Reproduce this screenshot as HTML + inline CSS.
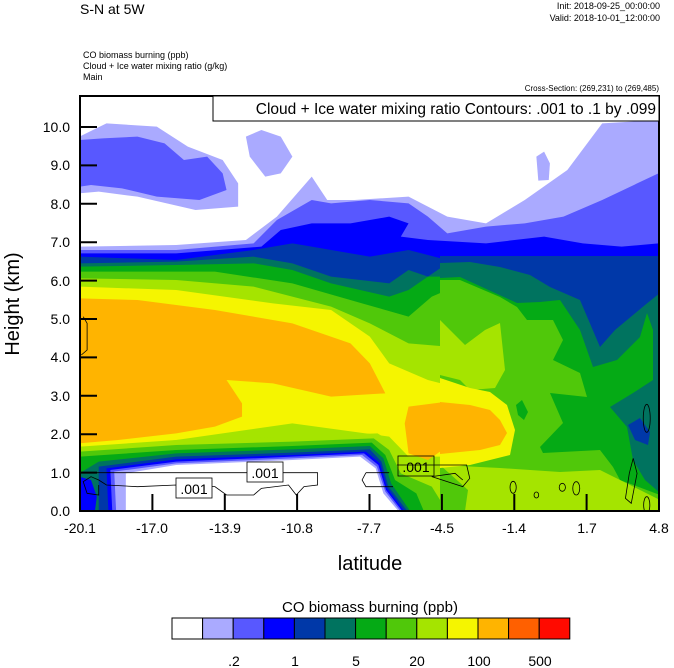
<!DOCTYPE html>
<html><head><meta charset="utf-8"><style>
html,body{margin:0;padding:0;background:#fff;}
svg{display:block;font-family:"Liberation Sans",sans-serif;}
</style></head><body>
<svg width="674" height="668" viewBox="0 0 674 668" xmlns="http://www.w3.org/2000/svg">
<defs><clipPath id="c"><rect x="80" y="96" width="579" height="415"/></clipPath>
<clipPath id="c2"><rect x="440" y="256" width="219" height="255"/></clipPath></defs>
<text x="80" y="14" font-size="14">S-N at 5W</text>
<text x="660" y="9" font-size="9" text-anchor="end">Init: 2018-09-25_00:00:00</text>
<text x="660" y="21" font-size="9" text-anchor="end">Valid: 2018-10-01_12:00:00</text>
<text x="83" y="58" font-size="9">CO biomass burning   (ppb)</text>
<text x="83" y="69" font-size="9">Cloud + Ice water mixing ratio   (g/kg)</text>
<text x="83" y="80" font-size="9">Main</text>
<text x="659" y="91" font-size="8" text-anchor="end">Cross-Section: (269,231) to (269,485)</text>
<g clip-path="url(#c)">
<g transform="translate(60,90) scale(0.38729,0.33333)">
<rect x="50" y="18" width="1495" height="1247" fill="#fff"/>
<g fill="#aaaaff">
<polygon points="50,470 300,465 480,450 560,380 650,260 690,330 760,330 900,320 1000,380 1100,400 1200,330 1310,240 1400,100 1545,90 1545,1265 50,1265"/>
<polygon points="50,140 120,100 250,110 330,170 420,210 460,280 460,350 350,360 200,320 100,305 50,310"/>
<polygon points="480,140 520,120 570,140 600,200 570,250 530,260 490,200"/>
<polygon points="1230,200 1250,185 1265,220 1262,270 1235,272"/>
</g>
<g fill="#5858ff">
<polygon points="50,150 110,145 200,140 270,160 320,210 380,200 420,250 430,300 360,330 250,320 160,295 80,285 50,290"/>
<polygon points="50,480 300,480 500,460 560,390 650,330 700,340 800,330 900,340 950,380 1000,430 1100,410 1200,400 1300,380 1400,330 1545,250 1545,1265 50,1265"/>
</g>
<polygon fill="#0000ff" points="50,490 300,490 520,470 570,420 650,400 750,400 850,380 900,400 880,440 950,450 1100,460 1250,440 1350,460 1450,470 1545,460 1545,1265 50,1265"/>
<polygon fill="#0038a8" points="50,500 300,510 500,480 600,460 650,470 800,500 900,480 1000,510 1200,520 1350,560 1450,540 1545,520 1545,1265 50,1265"/>
<polygon fill="#00735f" points="50,520 300,515 500,500 600,520 700,560 850,580 900,540 950,560 1000,520 1100,530 1300,590 1380,620 1380,780 1400,830 1460,800 1490,700 1545,650 1545,1265 50,1265"/>
<polygon fill="#05aa15" points="50,530 300,525 500,520 600,540 700,580 850,620 900,600 950,560 1050,560 1150,600 1200,620 1260,680 1300,800 1350,900 1420,950 1450,1050 1490,1130 1545,1150 1545,1265 50,1265"/>
<polygon fill="#50c80a" points="50,545 400,545 600,580 780,640 900,680 960,620 1000,600 1100,620 1250,740 1250,900 1300,1000 1330,1100 1400,1140 1545,1160 1545,1265 50,1265"/>
<polygon fill="#a5e400" points="50,565 300,570 500,590 700,650 800,700 900,760 1000,770 1050,700 1130,720 1140,830 1170,930 1160,1000 1180,1100 1250,1150 1400,1165 1545,1175 1545,1265 50,1265"/>
<polygon fill="#f5f500" points="50,590 300,600 550,640 700,660 800,740 850,820 950,870 1050,900 1120,960 1160,1030 1150,1070 1100,1100 1000,1100 900,1100 850,1040 600,1000 300,1050 50,1090"/>
<g fill="#ffb400">
<polygon points="50,625 200,630 400,660 600,700 750,760 800,820 840,910 700,920 550,880 430,870 470,940 470,980 400,1010 300,1030 150,1050 50,1060"/>
<polygon points="900,950 1000,935 1100,980 1140,1020 1100,1060 1000,1070 950,1110 900,1090 890,1000"/>
</g>
<polygon fill="#a5e400" points="50,1265 50,1070 300,1050 600,1040 820,1030 860,1060 900,1120 1000,1160 1060,1265"/>
<polygon fill="#50c80a" points="50,1265 50,1085 300,1065 600,1055 810,1045 850,1080 880,1150 960,1190 1000,1265"/>
<polygon fill="#05aa15" points="50,1265 50,1100 300,1080 600,1068 805,1058 840,1095 865,1170 920,1210 940,1265"/>
<polygon fill="#00735f" points="50,1265 50,1150 100,1115 300,1090 600,1078 800,1068 835,1105 855,1180 905,1265"/>
<polygon fill="#0038a8" points="100,1265 100,1130 300,1100 600,1088 800,1078 830,1115 848,1190 898,1265"/>
<polygon fill="#0000ff" points="50,1265 50,1160 80,1170 95,1220 90,1265"/>
<polygon fill="#0000ff" points="125,1265 120,1135 300,1108 600,1095 790,1085 826,1120 845,1195 890,1265"/>
<polygon fill="#5858ff" points="135,1265 130,1140 300,1115 600,1100 785,1090 822,1125 842,1200 885,1265"/>
<polygon fill="#aaaaff" points="145,1265 140,1145 300,1120 600,1105 780,1095 818,1130 840,1205 880,1265"/>
<polygon fill="#fff" points="170,1265 170,1150 300,1125 600,1110 775,1100 815,1135 835,1210 875,1265"/>
</g>
<g clip-path="url(#c2)">
<rect x="440" y="240" width="220" height="271" fill="#0038a8"/>
<polygon fill="#00735f" points="440,263 470,262 500,267 530,275 550,287 580,300 600,347 615,330 627,320 645,305 660,293 660,511 440,511"/>
<polygon fill="#0038a8" points="628,425 640,418 650,432 648,445 635,440"/>
<polygon fill="#05aa15" points="440,278 460,277 517,303 540,302 560,300 580,330 593,367 617,360 640,337 647,313 653,330 653,380 633,393 610,407 627,427 633,460 645,480 660,493 660,511 440,511"/>
<polygon fill="#50c80a" points="440,280 460,280 500,297 517,307 527,320 553,320 563,340 553,360 580,373 587,397 550,393 563,423 540,447 543,453 600,450 613,467 620,480 660,495 660,511 440,511"/>
<polygon fill="#05aa15" points="516,405 522,400 528,412 524,420 518,415"/>
<polygon fill="#a5e400" points="440,320 455,335 465,345 485,330 500,323 505,370 495,388 470,390 460,380 440,375"/>
<polygon fill="#a5e400" points="440,465 500,468 560,472 600,470 620,480 640,490 660,500 660,511 465,511 468,490"/>
<polygon fill="#f5f500" points="440,378 455,383 470,388 490,392 507,405 515,430 510,455 490,460 470,465 440,468"/>
<polygon fill="#ffb400" points="440,402 470,405 490,410 500,420 507,433 500,445 480,450 460,452 440,454"/>
</g>
<g transform="translate(60,90) scale(0.38729,0.33333)">
<g fill="none" stroke="#000" stroke-width="0.8">
<path d="M50,1148 L665,1148 L665,1185 L630,1190 L610,1215 L590,1185 L520,1195 L500,1215 L430,1215 L400,1190 L300,1185 L200,1190 L120,1185 L100,1170 L80,1160 L60,1175 L70,1210 L100,1215 L100,1185" vector-effect="non-scaling-stroke"/>
<path d="M790,1148 L850,1148 M870,1125 L1050,1125 L1058,1165 L1040,1190 L960,1160 L1020,1150 L1040,1170" vector-effect="non-scaling-stroke"/>
<path d="M790,1148 L780,1170 L790,1190 L860,1190" vector-effect="non-scaling-stroke"/>
<path d="M60,680 L70,700 L70,780 L55,795" vector-effect="non-scaling-stroke"/>
<ellipse cx="1170" cy="1192" rx="8" ry="18" vector-effect="non-scaling-stroke"/>
<ellipse cx="1230" cy="1215" rx="6" ry="9" vector-effect="non-scaling-stroke"/>
<ellipse cx="1297" cy="1192" rx="8" ry="12" vector-effect="non-scaling-stroke"/>
<ellipse cx="1333" cy="1195" rx="9" ry="20" vector-effect="non-scaling-stroke"/>
<ellipse cx="1515" cy="985" rx="9" ry="42" vector-effect="non-scaling-stroke"/>
<path d="M1480,1105 L1490,1150 L1475,1240 L1460,1225 L1470,1150 Z" vector-effect="non-scaling-stroke"/>
<ellipse cx="1515" cy="1245" rx="8" ry="25" vector-effect="non-scaling-stroke"/>
</g>
</g>
</g>
<g font-size="12">
<rect x="176" y="478" width="36" height="20" fill="#fff" stroke="#000" stroke-width="0.8"/>
<text x="194" y="494" text-anchor="middle" font-size="14">.001</text>
<rect x="247" y="462" width="36" height="20" fill="#fff" stroke="#000" stroke-width="0.8"/>
<text x="265" y="478" text-anchor="middle" font-size="14">.001</text>
<rect x="398" y="456" width="36" height="20" fill="none" stroke="#000" stroke-width="0.8"/>
<text x="416" y="472" text-anchor="middle" font-size="14">.001</text>
</g>
<rect x="80" y="96" width="579" height="415" fill="none" stroke="#000" stroke-width="2"/>
<rect x="213" y="96" width="446" height="25" fill="#fff" stroke="#000" stroke-width="1"/>
<text x="656" y="114" font-size="15.5" text-anchor="end">Cloud + Ice water mixing ratio Contours: .001 to .1 by .099</text>
<g stroke="#000" stroke-width="2">
<line x1="80" y1="127" x2="97" y2="127"/><line x1="80" y1="165.4" x2="97" y2="165.4"/>
<line x1="80" y1="203.8" x2="97" y2="203.8"/><line x1="80" y1="242.2" x2="97" y2="242.2"/>
<line x1="80" y1="280.6" x2="97" y2="280.6"/><line x1="80" y1="319" x2="97" y2="319"/>
<line x1="80" y1="357.4" x2="97" y2="357.4"/><line x1="80" y1="395.8" x2="97" y2="395.8"/>
<line x1="80" y1="434.2" x2="97" y2="434.2"/><line x1="80" y1="472.6" x2="97" y2="472.6"/>
<line x1="152.4" y1="511" x2="152.4" y2="494"/><line x1="224.8" y1="511" x2="224.8" y2="494"/>
<line x1="297.1" y1="511" x2="297.1" y2="494"/><line x1="369.5" y1="511" x2="369.5" y2="494"/>
<line x1="441.9" y1="511" x2="441.9" y2="494"/><line x1="514.3" y1="511" x2="514.3" y2="494"/>
<line x1="586.6" y1="511" x2="586.6" y2="494"/>
</g>
<g font-size="14" text-anchor="end">
<text x="70" y="132">10.0</text><text x="70" y="170">9.0</text><text x="70" y="209">8.0</text>
<text x="70" y="247">7.0</text><text x="70" y="286">6.0</text><text x="70" y="324">5.0</text>
<text x="70" y="362">4.0</text><text x="70" y="401">3.0</text><text x="70" y="439">2.0</text>
<text x="70" y="478">1.0</text><text x="70" y="516">0.0</text>
</g>
<g font-size="14" text-anchor="middle">
<text x="80" y="533">-20.1</text><text x="152" y="533">-17.0</text><text x="225" y="533">-13.9</text>
<text x="297" y="533">-10.8</text><text x="369" y="533">-7.7</text><text x="442" y="533">-4.5</text>
<text x="514" y="533">-1.4</text><text x="587" y="533">1.7</text><text x="659" y="533">4.8</text>
</g>
<text x="370" y="570" font-size="20" text-anchor="middle">latitude</text>
<text transform="translate(19,304) rotate(-90)" font-size="20" text-anchor="middle">Height (km)</text>
<text x="370" y="612" font-size="15" text-anchor="middle">CO biomass burning  (ppb)</text>
<g stroke="#000" stroke-width="1">
<rect x="172" y="618" width="30.6" height="21" fill="#fff"/>
<rect x="202.6" y="618" width="30.6" height="21" fill="#aaaaff"/>
<rect x="233.2" y="618" width="30.6" height="21" fill="#5858ff"/>
<rect x="263.8" y="618" width="30.6" height="21" fill="#0000ff"/>
<rect x="294.4" y="618" width="30.6" height="21" fill="#0038a8"/>
<rect x="325" y="618" width="30.6" height="21" fill="#00735f"/>
<rect x="355.6" y="618" width="30.6" height="21" fill="#05aa15"/>
<rect x="386.2" y="618" width="30.6" height="21" fill="#50c80a"/>
<rect x="416.8" y="618" width="30.6" height="21" fill="#a5e400"/>
<rect x="447.4" y="618" width="30.6" height="21" fill="#f5f500"/>
<rect x="478" y="618" width="30.6" height="21" fill="#ffb400"/>
<rect x="508.6" y="618" width="30.6" height="21" fill="#ff6000"/>
<rect x="539.2" y="618" width="30.6" height="21" fill="#ff0a00"/>
</g>
<g font-size="14" text-anchor="middle">
<text x="234" y="666">.2</text><text x="295" y="666">1</text><text x="356" y="666">5</text>
<text x="417" y="666">20</text><text x="479" y="666">100</text><text x="540" y="666">500</text>
</g>
</svg>
</body></html>
